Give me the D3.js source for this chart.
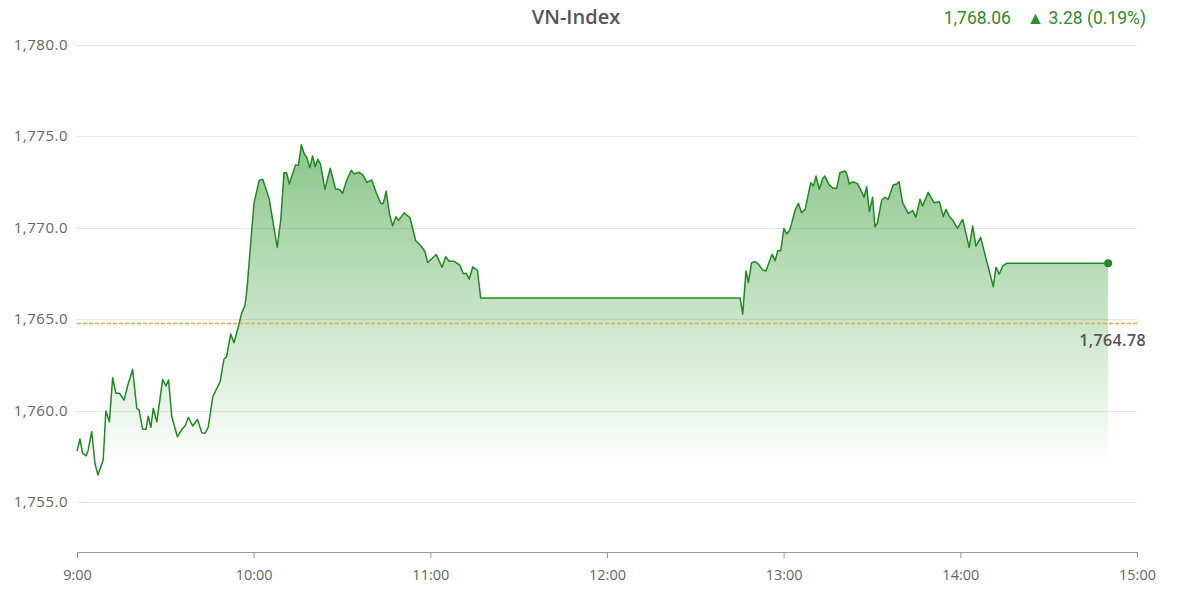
<!DOCTYPE html>
<html>
<head>
<meta charset="utf-8">
<script src="https://cdn.jsdelivr.net/npm/d3@7"></script>
<style>
  html, body { margin: 0; padding: 0; background: #fff; }
  svg { display: block; font-family: "Open Sans", "Noto Sans", sans-serif; }
</style>
</head>
<body>
<svg id="chart" width="1200" height="593"></svg>
<script>
// ---- data ----
const title = "VN-Index";
const lastValue = "1,768.06";
const changeText = "\u25B2 3.28 (0.19%)";
const refValue = 1764.78;
const refLabel = "1,764.78";

const yTicks = [1755, 1760, 1765, 1770, 1775, 1780];
const xTicks = [0, 60, 120, 180, 240, 300, 360];
const xTickLabels = ["9:00", "10:00", "11:00", "12:00", "13:00", "14:00", "15:00"];

// minutes since 9:00
const minutes = [
  0, 1.0, 1.9, 3.1, 3.8, 5.0, 6.1, 7.1, 8.9, 9.8, 11.0, 12.1, 13.2, 14.4, 16.0, 17.1, 18.9,
  20.3, 21.1, 22.3, 23.4, 24.2, 25.1, 25.9, 27.1, 29.1, 30.2, 31.1, 32.2, 34.1, 35.6, 36.7,
  37.8, 39.3, 40.9, 42.4, 43.5, 44.6, 46.1, 48.6, 49.9, 50.8, 52.2, 53.3, 54.8, 55.9, 57.1,
  57.8, 58.8, 60.1, 61.9, 63.1, 65.3, 68.0, 69.2, 70.3, 71.2, 72.1, 74.2, 75.2, 76.2, 77.1,
  78.1, 79.1, 80.0, 80.9, 81.8, 82.7, 84.2, 86.0, 87.8, 89.1, 90.2, 91.5, 93.1, 94.1, 95.7,
  97.0, 98.5, 100.1, 101.7, 103.2, 104.0, 105.0, 106.2, 107.2, 108.3, 109.2, 111.1, 113.1,
  115.0, 116.9, 118.2, 119.1, 122.0, 124.0, 125.2, 126.4, 128.1, 130.0, 131.2, 132.2, 133.2,
  134.4, 136.0, 137.1, 225.2, 226.1, 227.2, 228.0, 229.1, 230.3, 231.4, 232.9, 234.0, 235.1,
  236.1, 237.1, 238.0, 239.0, 240.1, 241.0, 242.1, 243.9, 245.0, 246.1, 247.3, 249.2, 250.1,
  251.0, 252.1, 253.3, 254.0, 255.5, 256.9, 258.0, 259.1, 260.8, 261.4, 262.3, 263.4, 265.0,
  266.5, 267.3, 268.2, 269.1, 270.2, 271.0, 271.8, 273.3, 274.4, 275.5, 277.2, 278.4, 279.2,
  280.4, 282.3, 283.8, 284.9, 286.3, 287.2, 289.1, 291.1, 292.9, 294.2, 295.1, 296.3, 297.4,
  299.0, 300.8, 303.0, 304.2, 305.3, 306.9, 308.7, 311.2, 312.1, 313.2, 314.4, 315.7, 350.2
];
const values = [
  1757.79, 1758.45, 1757.68, 1757.53, 1757.84, 1758.85, 1757.12, 1756.48, 1757.30, 1759.98,
  1759.39, 1761.80, 1760.95, 1760.95, 1760.58, 1761.31, 1762.26, 1760.13, 1760.03, 1758.98,
  1758.98, 1759.70, 1759.09, 1760.13, 1759.39, 1761.71, 1761.35, 1761.67, 1759.67, 1758.57,
  1758.98, 1759.16, 1759.63, 1759.16, 1759.52, 1758.79, 1758.76, 1759.12, 1760.76, 1761.58,
  1762.81, 1762.95, 1764.19, 1763.71, 1764.59, 1765.32, 1765.78, 1766.78, 1768.79, 1771.34,
  1772.61, 1772.65, 1771.56, 1768.93, 1770.43, 1773.01, 1773.01, 1772.40, 1773.44, 1773.42,
  1774.55, 1774.08, 1773.82, 1773.29, 1773.93, 1773.34, 1773.75, 1773.49, 1772.10, 1773.26,
  1772.13, 1772.10, 1771.89, 1772.56, 1773.15, 1772.95, 1773.04, 1772.91, 1772.49, 1772.62,
  1771.89, 1771.34, 1771.32, 1772.00, 1770.70, 1770.11, 1770.61, 1770.41, 1770.82, 1770.55,
  1769.31, 1768.99, 1768.69, 1768.10, 1768.54, 1767.84, 1768.42, 1768.17, 1768.17, 1767.96,
  1767.49, 1767.51, 1767.19, 1767.86, 1767.68, 1766.16, 1766.16, 1765.28, 1767.64, 1767.00,
  1768.09, 1768.15, 1768.02, 1767.69, 1767.64, 1768.15, 1768.55, 1768.20, 1768.75, 1768.75,
  1769.97, 1769.66, 1769.88, 1770.97, 1771.34, 1770.83, 1771.01, 1772.47, 1772.29, 1772.83,
  1772.11, 1772.71, 1772.83, 1772.34, 1772.16, 1772.16, 1773.01, 1773.11, 1772.98, 1772.40,
  1772.52, 1772.43, 1771.97, 1771.67, 1772.25, 1770.88, 1771.67, 1770.06, 1770.25, 1771.52,
  1771.67, 1771.56, 1772.34, 1772.40, 1772.52, 1771.37, 1770.79, 1770.94, 1770.57, 1771.56,
  1771.19, 1771.94, 1771.37, 1771.43, 1770.61, 1771.01, 1770.61, 1770.43, 1769.97, 1770.46,
  1768.93, 1770.10, 1769.00, 1769.48, 1768.33, 1766.78, 1767.84, 1767.47, 1767.91, 1768.06,
  1768.06
];

// ---- chart ----
const svg = d3.select("#chart");
const plotLeft = 77, plotRight = 1137, plotTop = 45, plotBottom = 552;
const yMin = 1752.27, yMax = 1780;

const x = d3.scaleLinear().domain([0, 360]).range([plotLeft, plotRight]);
const y = d3.scaleLinear().domain([yMin, yMax]).range([plotBottom, plotTop]);

const data = minutes.map((m, i) => ({ m, v: values[i] }));

// gradient
const defs = svg.append("defs");
const grad = defs.append("linearGradient")
  .attr("id", "areaGrad").attr("gradientUnits", "userSpaceOnUse")
  .attr("x1", 0).attr("x2", 0).attr("y1", y(d3.max(values))).attr("y2", y(1757));
grad.append("stop").attr("offset", 0).attr("stop-color", "#3f9f3f").attr("stop-opacity", 0.6);
grad.append("stop").attr("offset", 1).attr("stop-color", "#3f9f3f").attr("stop-opacity", 0.0);

// grid
svg.append("g").selectAll("line").data(yTicks).join("line")
  .attr("x1", plotLeft).attr("x2", plotRight)
  .attr("y1", d => Math.round(y(d)) + 0.5).attr("y2", d => Math.round(y(d)) + 0.5)
  .attr("stroke", "#e6e6e6").attr("stroke-width", 1);

// y labels
svg.append("g").selectAll("text").data(yTicks).join("text")
  .attr("x", 68).attr("y", d => y(d) + 5)
  .attr("text-anchor", "end")
  .attr("font-size", 15).attr("letter-spacing", 0.5).attr("fill", "#666")
  .text(d => d3.format(",.1f")(d));

// area
const area = d3.area().x(d => x(d.m)).y0(plotBottom).y1(d => y(d.v));
svg.append("path").datum(data).attr("d", area).attr("fill", "url(#areaGrad)");

// reference line
svg.append("line")
  .attr("x1", plotLeft).attr("x2", plotRight)
  .attr("y1", Math.round(y(refValue)) + 0.5).attr("y2", Math.round(y(refValue)) + 0.5)
  .attr("stroke", "#eda93a").attr("stroke-width", 1.3).attr("stroke-dasharray", "4,2");
svg.append("text")
  .attr("x", 1146).attr("y", y(refValue) + 23)
  .attr("text-anchor", "end").attr("font-size", 16).attr("font-weight", 600)
  .attr("letter-spacing", 0.4)
  .attr("fill", "#555").text(refLabel);

// line
const line = d3.line().x(d => x(d.m)).y(d => y(d.v));
svg.append("path").datum(data).attr("d", line)
  .attr("fill", "none").attr("stroke", "#1f8a1f").attr("stroke-width", 1.5)
  .attr("stroke-linejoin", "round");

// end dot
const lastPt = data[data.length - 1];
svg.append("circle").attr("cx", x(lastPt.m)).attr("cy", y(lastPt.v)).attr("r", 4)
  .attr("fill", "#1f8a1f");

// x axis
const xAxis = d3.axisBottom(x).tickValues(xTicks)
  .tickFormat((d, i) => xTickLabels[i]).tickSize(6).tickPadding(12);
const gx = svg.append("g").attr("transform", `translate(0,${plotBottom})`).call(xAxis);
gx.select(".domain").attr("stroke", "#999");
gx.selectAll(".tick line").attr("stroke", "#999");
gx.selectAll(".tick text").attr("font-size", 14.5).attr("fill", "#666")
  .attr("font-family", "\"Open Sans\", sans-serif");

// title
svg.append("text").attr("x", 576).attr("y", 24).attr("text-anchor", "middle")
  .attr("font-size", 20).attr("font-weight", 600).attr("fill", "#555").text(title);

// header values
const hdr = svg.append("text").attr("x", 1146).attr("y", 24).attr("text-anchor", "end")
  .attr("font-size", 17.5).attr("fill", "#2e8b2e").attr("font-family", "Roboto, sans-serif");
hdr.append("tspan").text(lastValue);
hdr.append("tspan").attr("dx", 16).text(changeText);
</script>
</body>
</html>
